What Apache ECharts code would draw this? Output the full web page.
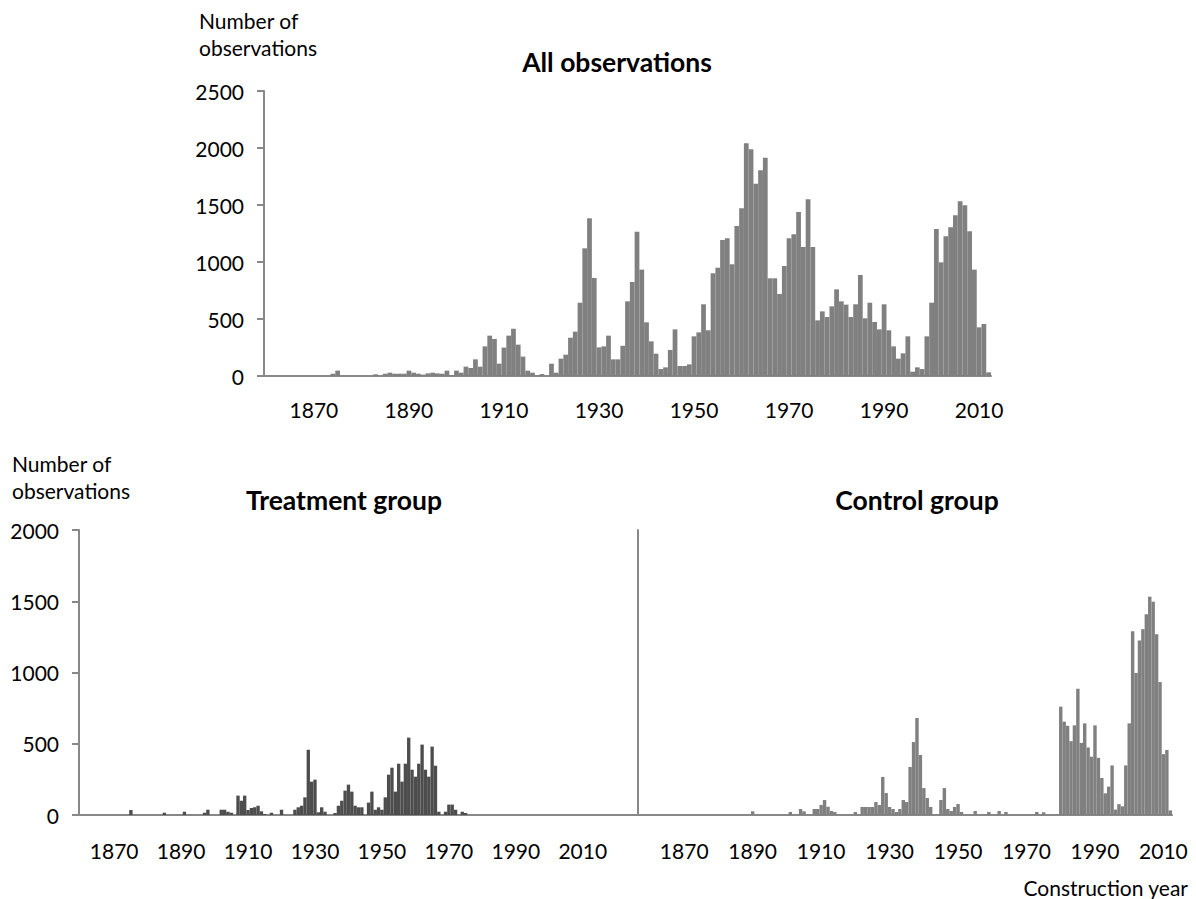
<!DOCTYPE html>
<html><head><meta charset="utf-8">
<script src="https://cdn.jsdelivr.net/npm/echarts@6/dist/echarts.min.js"></script>
<style>html,body{margin:0;padding:0;background:#fff}#c{width:1196px;height:899px}</style>
</head><body><div id="c"></div><script>
// ---- data (years 1860..2012) ----
const firstYear = 1860, lastYear = 2012;
const allObs = [
  0,0,0,0,0,0,0,0,0,0,
  0,0,0,0,20,47,0,0,0,0,
  0,0,0,15,0,20,29,20,20,20,
  47,29,20,12,23,29,23,20,47,6,
  47,29,82,70,146,82,260,354,325,108,
  249,354,415,275,170,47,29,6,17,0,
  108,29,152,187,336,389,643,1120,1383,860,
  251,260,354,146,146,265,655,825,1266,933,
  471,304,196,61,76,228,409,88,88,102,
  348,383,629,401,901,950,1193,1208,980,1316,
  1471,2041,1988,1687,1804,1915,857,857,719,965,
  1208,1243,1439,1132,1550,1132,488,567,518,611,
  760,655,626,518,629,886,506,643,474,409,
  629,401,260,152,199,348,38,76,61,348,
  643,1289,997,1225,1304,1409,1532,1497,1269,933,
  427,456,32
];
const treatment = [
  0,0,0,0,0,0,0,0,0,0,
  0,0,0,0,0,35,0,0,0,0,
  0,0,0,0,0,16,0,0,0,0,
  0,23,0,0,0,0,0,16,37,0,
  0,0,37,37,23,16,0,136,100,136,
  35,49,54,65,26,7,0,16,0,0,
  37,0,0,0,37,54,65,124,458,234,
  248,19,54,23,0,0,14,65,100,171,
  213,164,65,54,54,0,87,164,37,54,
  37,124,283,332,164,360,234,360,543,318,
  269,360,494,318,269,480,346,23,0,23,
  73,73,37,0,23,14,0,0,0,0,
  0,0,0,0,0,0,0,0,0,0,
  0,0,0,0,0,0,0,0,0,0,
  0,0,0,0,0,0,0,0,0,0,
  0,0,0
];
const control = [
  0,0,0,0,0,0,0,0,0,0,
  0,0,0,0,0,0,0,0,0,0,
  0,0,0,0,0,0,0,0,0,0,
  26,0,0,0,0,0,0,0,0,0,
  0,21,0,0,42,26,0,0,42,42,
  70,105,58,28,21,0,0,0,0,0,
  21,0,56,56,56,56,91,70,267,154,
  56,42,21,42,105,91,337,512,681,421,
  189,119,56,0,0,105,189,42,28,56,
  77,21,0,0,0,28,0,0,0,21,
  0,0,28,0,21,0,0,0,0,0,
  0,0,0,21,0,19,0,0,0,0,
  760,655,626,518,629,886,506,643,474,409,
  629,401,260,152,199,348,38,76,61,348,
  643,1289,997,1225,1304,1409,1532,1497,1269,933,
  427,456,32
];
const labelYears = [1870,1890,1910,1930,1950,1970,1990,2010];
const yTopMax = 2500, yBottomMax = 2000, yStep = 500;
const texts = {
  yName: 'Number of\nobservations',
  topTitle: 'All observations',
  leftTitle: 'Treatment group',
  rightTitle: 'Control group',
  xName: 'Construction year'
};

// ---- axes categories ----
function range(a, b){ const r=[]; for(let y=a;y<=b;y++) r.push(String(y)); return r; }
const topCats = range(firstYear, lastYear);
const leftCats = range(firstYear, 2026);   // treatment chart axis runs further right
const rightCats = range(1857, lastYear);   // control chart axis starts a little earlier
const rightData = [null,null,null].concat(control);

const FONT = 'Lato, "Open Sans", sans-serif';
const AX = '#888888';
function xAxis(grid, cats, margin){
  return {type:'category', gridIndex:grid, data:cats, boundaryGap:true,
    axisLine:{show:true, lineStyle:{color:AX, width:2}},
    axisTick:{show:false},
    axisLabel:{show:true, interval:(i,v)=>labelYears.includes(Number(v)), hideOverlap:false,
      fontFamily:FONT, fontSize:21, color:'#000', margin:margin},
    splitLine:{show:false}};
}
function yAxis(grid, max, showLabels){
  return {type:'value', gridIndex:grid, min:0, max:max, interval:yStep,
    axisLine:{show:true, lineStyle:{color:AX, width:2}},
    axisTick:{show:showLabels, inside:false, length:7, lineStyle:{color:AX, width:2}},
    axisLabel:{show:showLabels, formatter:v=>String(v), fontFamily:FONT, fontSize:21, color:'#000', margin:20},
    splitLine:{show:false}};
}
function txt(x, y, text, size, weight, align, valign, lh){
  return {type:'text', x:x, y:y, silent:true, style:{text:text, fontFamily:FONT, fontSize:size,
    fontWeight:weight, fill:'#000', textAlign:align, textVerticalAlign:valign, lineHeight:lh||size*1.2}};
}

const chart = echarts.init(document.getElementById('c'), null, {renderer:'svg'});
chart.setOption({
  animation:false,
  backgroundColor:'#fff',
  grid:[
    {left:264, top:91, width:727, height:285},
    {left:79, top:530, width:559, height:285},
    {left:638, top:530, width:534, height:285}
  ],
  xAxis:[xAxis(0, topCats, 23), xAxis(1, leftCats, 25), xAxis(2, rightCats, 25)],
  yAxis:[yAxis(0, yTopMax, true), yAxis(1, yBottomMax, true), yAxis(2, yBottomMax, false)],
  series:[
    {type:'bar', xAxisIndex:0, yAxisIndex:0, data:allObs, barCategoryGap:'0%', itemStyle:{color:'#808080'}},
    {type:'bar', xAxisIndex:1, yAxisIndex:1, data:treatment, barCategoryGap:'0%', itemStyle:{color:'#4d4d4d'}},
    {type:'bar', xAxisIndex:2, yAxisIndex:2, data:rightData, barCategoryGap:'0%', itemStyle:{color:'#808080'}}
  ],
  graphic:[
    txt(199, 7, texts.yName, 21, 'normal', 'left', 'top', 27),
    txt(617, 62, texts.topTitle, 26.5, 'bold', 'center', 'middle'),
    txt(12, 450, texts.yName, 21, 'normal', 'left', 'top', 27),
    txt(344, 500, texts.leftTitle, 26.5, 'bold', 'center', 'middle'),
    txt(917, 500, texts.rightTitle, 26.5, 'bold', 'center', 'middle'),
    txt(1188, 887, texts.xName, 21, 'normal', 'right', 'middle')
  ]
});
</script></body></html>
